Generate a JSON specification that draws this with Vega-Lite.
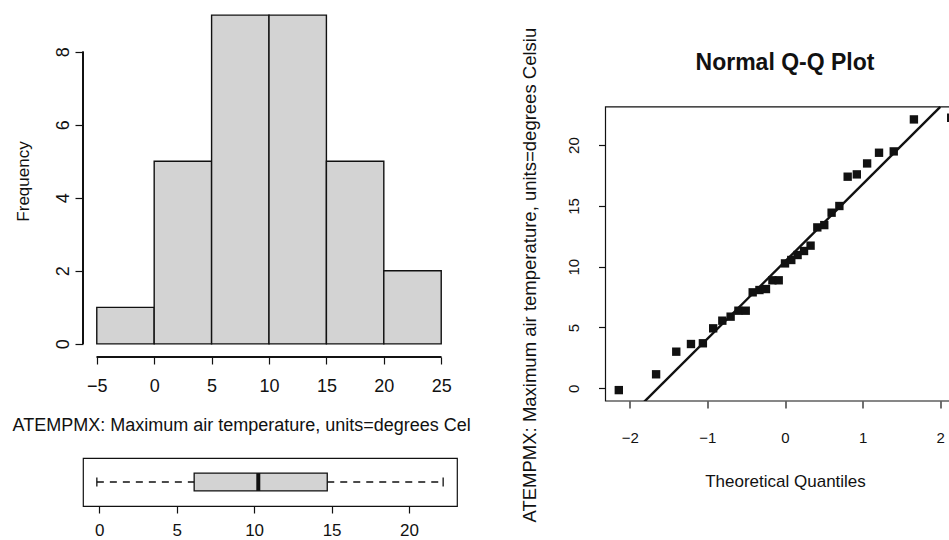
{
  "$schema": "https://vega.github.io/schema/vega-lite/v6.json",
  "padding": {"left": 12, "top": 2, "right": 0, "bottom": 0},
  "background": "white",
  "config": {
    "view": {"stroke": null},
    "font": "Liberation Sans",
    "axis": {"grid": false, "domain": false, "tickColor": "#111", "tickWidth": 1.2, "labelColor": "#111", "titleColor": "#111", "labelFont": "Liberation Sans", "titleFont": "Liberation Sans", "titleFontWeight": "normal", "labelOverlap": false, "labelFlush": false},
    "title": {"font": "Liberation Sans", "fontWeight": "bold", "fontSize": 23, "color": "#111"}
  },
  "datasets": {
    "hist": [
      {"lo": -5, "hi": 0, "n": 1},
      {"lo": 0, "hi": 5, "n": 5},
      {"lo": 5, "hi": 10, "n": 9},
      {"lo": 10, "hi": 15, "n": 9},
      {"lo": 15, "hi": 20, "n": 5},
      {"lo": 20, "hi": 25, "n": 2}
    ],
    "box": [
      {"lo": -0.15, "q1": 6.13, "med": 10.27, "q3": 14.72, "hi": 22.2}
    ],
    "qq": [
      {"theo": -2.1407, "temp": -0.15},
      {"theo": -1.6603, "temp": 1.15},
      {"theo": -1.4006, "temp": 3.01},
      {"theo": -1.2111, "temp": 3.64},
      {"theo": -1.0577, "temp": 3.7},
      {"theo": -0.9252, "temp": 4.93},
      {"theo": -0.8073, "temp": 5.56},
      {"theo": -0.7003, "temp": 5.89},
      {"theo": -0.6003, "temp": 6.38},
      {"theo": -0.5058, "temp": 6.38},
      {"theo": -0.4162, "temp": 7.89},
      {"theo": -0.3295, "temp": 8.08},
      {"theo": -0.2451, "temp": 8.16},
      {"theo": -0.1623, "temp": 8.88},
      {"theo": -0.0809, "temp": 8.88},
      {"theo": 0, "temp": 10.27},
      {"theo": 0.0809, "temp": 10.55},
      {"theo": 0.1623, "temp": 10.96},
      {"theo": 0.2451, "temp": 11.29},
      {"theo": 0.3295, "temp": 11.73},
      {"theo": 0.4162, "temp": 13.23},
      {"theo": 0.5058, "temp": 13.42},
      {"theo": 0.6003, "temp": 14.44},
      {"theo": 0.7003, "temp": 14.99},
      {"theo": 0.8073, "temp": 17.4},
      {"theo": 0.9252, "temp": 17.59},
      {"theo": 1.0577, "temp": 18.49},
      {"theo": 1.2111, "temp": 19.37},
      {"theo": 1.4006, "temp": 19.48},
      {"theo": 1.6603, "temp": 22.11},
      {"theo": 2.1407, "temp": 22.25}
    ],
    "qqline": [
      {"x1": -2.312, "y1": -4.28, "x2": 2.0, "y2": 23.146}
    ]
  },
  "concat": [
    {
      "width": 372,
      "height": 355,
      "data": {"name": "hist"},
      "layer": [
        {
          "mark": {"type": "rect", "fill": "#d3d3d3", "stroke": "#111", "strokeWidth": 1.4},
          "encoding": {
            "x": {"field": "lo", "type": "quantitative", "scale": {"domain": [-6.2, 26.2], "nice": false, "zero": false},
              "axis": {"values": [-5, 0, 5, 10, 15, 20, 25], "tickSize": 7, "labelFontSize": 18, "labelPadding": 13, "labelBaseline": "top", "labelAlign": "center",
                "title": "ATEMPMX: Maximum air temperature, units=degrees Cel", "titleFontSize": 18, "titleX": -71, "titleY": 73, "titleAlign": "left", "titleBaseline": "alphabetic"}},
            "x2": {"field": "hi"},
            "y": {"field": "n", "type": "quantitative", "scale": {"domain": [-0.36, 9.36], "nice": false, "zero": false},
              "axis": {"values": [0, 2, 4, 6, 8], "tickSize": 8, "labelFontSize": 18, "labelAngle": 270, "labelAlign": "center", "labelBaseline": "alphabetic", "labelPadding": 7,
                "title": "Frequency", "titleFontSize": 17, "titleAngle": 270, "titleX": -54.7, "titleY": 179, "titleAlign": "center", "titleBaseline": "alphabetic"}},
            "y2": {"datum": 0}
          }
        },
        {
          "mark": {"type": "rule", "stroke": "#111", "strokeWidth": 1.2},
          "encoding": {"x": {"datum": -5}, "x2": {"datum": 25}, "y": {"datum": -0.36}}
        },
        {
          "mark": {"type": "rule", "stroke": "#111", "strokeWidth": 1.2},
          "encoding": {"x": {"datum": -6.2}, "y": {"datum": 0}, "y2": {"datum": 8}}
        }
      ]
    },
    {
      "width": 359,
      "height": 399,
      "title": {"text": "Normal Q-Q Plot", "frame": "group", "anchor": "middle", "baseline": "alphabetic", "offset": -91},
      "layer": [
        {
          "data": {"name": "qq"},
          "mark": {"type": "square", "size": 70, "color": "#111", "opacity": 1},
          "encoding": {
            "x": {"field": "theo", "type": "quantitative", "scale": {"domain": [-2.312, 2.312], "nice": false, "zero": false},
              "axis": {"values": [-2, -1, 0, 1, 2], "format": "d", "tickSize": 7, "labelFontSize": 15, "labelPadding": 22.4, "labelBaseline": "top",
                "title": "Theoretical Quantiles", "titleFontSize": 17, "titleX": 179.5, "titleY": 85, "titleAlign": "center", "titleBaseline": "alphabetic"}},
            "y": {"field": "temp", "type": "quantitative", "scale": {"domain": [-1.046, 31.766], "nice": false, "zero": false},
              "axis": {"values": [0, 5, 10, 15, 20], "tickSize": 7, "labelFontSize": 15, "labelAngle": 270, "labelAlign": "center", "labelBaseline": "alphabetic", "labelPadding": 19.7,
                "title": "ATEMPMX: Maximum air temperature, units=degrees Celsiu", "titleFontSize": 18.5, "titleAngle": 270, "titleX": -70, "titleY": 520, "titleAlign": "left", "titleBaseline": "alphabetic"}}
          }
        },
        {
          "data": {"name": "qqline"},
          "mark": {"type": "rule", "stroke": "#111", "strokeWidth": 2.4, "clip": true},
          "encoding": {
            "x": {"field": "x1", "type": "quantitative"},
            "y": {"field": "y1", "type": "quantitative"},
            "x2": {"field": "x2"},
            "y2": {"field": "y2"}
          }
        },
        {
          "data": {"values": [{"frame": 1}]},
          "mark": {"type": "rect", "fill": null, "stroke": "#111", "strokeWidth": 1.2},
          "encoding": {
            "x": {"datum": -2.312},
            "x2": {"datum": 2.312},
            "y": {"datum": -1.046},
            "y2": {"datum": 23.146}
          }
        }
      ]
    },
    {
      "width": 374,
      "height": 48,
      "view": {"stroke": "#111", "strokeWidth": 1.2},
      "data": {"name": "box"},
      "layer": [
        {
          "mark": {"type": "rule", "stroke": "#111", "strokeWidth": 1.5, "strokeDash": [7, 6]},
          "encoding": {
            "x": {"field": "lo", "type": "quantitative", "scale": {"domain": [-1.044, 23.094], "nice": false, "zero": false},
              "axis": {"values": [0, 5, 10, 15, 20], "tickSize": 7, "labelFontSize": 17, "labelPadding": 9, "labelBaseline": "top", "title": null}},
            "x2": {"field": "q1"},
            "y": {"datum": 1, "type": "quantitative", "scale": {"domain": [0.46, 1.54], "nice": false, "zero": false}, "axis": null}
          }
        },
        {
          "mark": {"type": "rule", "stroke": "#111", "strokeWidth": 1.5, "strokeDash": [7, 6]},
          "encoding": {
            "x": {"field": "q3", "type": "quantitative"},
            "x2": {"field": "hi"},
            "y": {"datum": 1, "axis": null}
          }
        },
        {
          "mark": {"type": "rule", "stroke": "#111", "strokeWidth": 1.3},
          "encoding": {
            "x": {"field": "lo", "type": "quantitative"},
            "y": {"datum": 0.9, "axis": null},
            "y2": {"datum": 1.1}
          }
        },
        {
          "mark": {"type": "rule", "stroke": "#111", "strokeWidth": 1.3},
          "encoding": {
            "x": {"field": "hi", "type": "quantitative"},
            "y": {"datum": 0.9, "axis": null},
            "y2": {"datum": 1.1}
          }
        },
        {
          "mark": {"type": "rect", "fill": "#d3d3d3", "stroke": "#111", "strokeWidth": 1.3},
          "encoding": {
            "x": {"field": "q1", "type": "quantitative"},
            "x2": {"field": "q3"},
            "y": {"datum": 0.8, "axis": null},
            "y2": {"datum": 1.2}
          }
        },
        {
          "mark": {"type": "rule", "stroke": "#111", "strokeWidth": 4},
          "encoding": {
            "x": {"field": "med", "type": "quantitative"},
            "y": {"datum": 0.8, "axis": null},
            "y2": {"datum": 1.2}
          }
        }
      ]
    }
  ],
  "columns": 2,
  "align": "none",
  "bounds": "flush",
  "spacing": {"row": 57, "column": 148.5},
  "resolve": {"scale": {"x": "independent", "y": "independent"}}
}
